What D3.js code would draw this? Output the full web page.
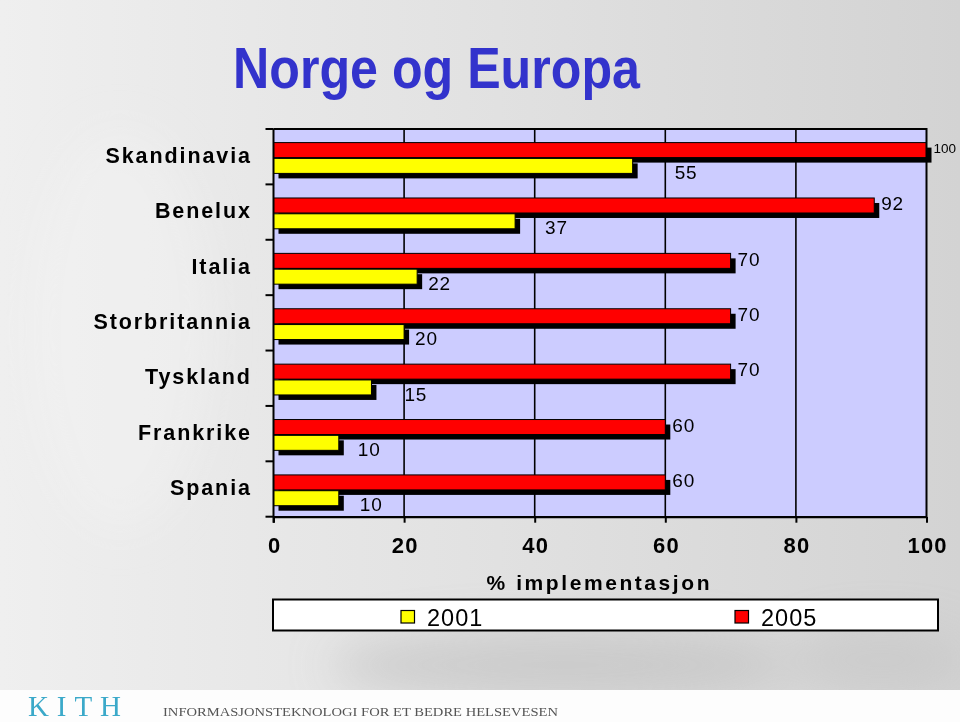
<!DOCTYPE html>
<html><head><meta charset="utf-8">
<script src="https://cdn.jsdelivr.net/npm/d3@7"></script>
<style>html,body{margin:0;padding:0;overflow:hidden;background:#fff}</style>
</head><body>
<script>
// ---- data ----
const categories = ["Skandinavia","Benelux","Italia","Storbritannia","Tyskland","Frankrike","Spania"];
const values2001 = [55,37,22,20,15,10,10];
const values2005 = [100,92,70,70,70,60,60];
const xTicks = [0,20,40,60,80,100];
const seriesNames = ["2001","2005"];
const seriesColors = ["#FFFF00","#FF0000"];
// label placement nudges (px) for the 2001 value labels, as in the original slide
const label2001Nudge = [34,22,3,3,25,11,13];

// ---- layout ----
const W = 960, H = 722;
const M = {left:273.5, right:926.5, top:129, bottom:516.7};
const svg = d3.select("body").append("svg").attr("width", W).attr("height", H);
const defs = svg.append("defs");

const bgGrad = defs.append("linearGradient").attr("id","bg").attr("x1","0").attr("x2","1").attr("y1","0").attr("y2","0");
[[0,"#efefef"],[0.45,"#e3e3e3"],[1,"#d3d3d3"]].forEach(([o,c])=>bgGrad.append("stop").attr("offset",o).attr("stop-color",c));
defs.append("filter").attr("id","blur").attr("x","-50%").attr("y","-50%").attr("width","200%").attr("height","200%")
  .append("feGaussianBlur").attr("stdDeviation",22);

// background
svg.append("rect").attr("width",W).attr("height",H).attr("fill","url(#bg)");
const clouds = svg.append("g").attr("filter","url(#blur)");
clouds.append("ellipse").attr("cx",560).attr("cy",665).attr("rx",230).attr("ry",35).attr("fill","#b8b8b8").attr("opacity",0.5);
clouds.append("ellipse").attr("cx",120).attr("cy",330).attr("rx",90).attr("ry",200).attr("fill","#f4f4f4").attr("opacity",0.4);
clouds.append("ellipse").attr("cx",880).attr("cy",660).attr("rx",90).attr("ry",30).attr("fill","#c4c4c4").attr("opacity",0.6);
svg.append("rect").attr("x",0).attr("y",690).attr("width",W).attr("height",H-690).attr("fill","#fdfdfd");

// title
svg.append("text").attr("x",233).attr("y",88)
  .attr("font-family","'Liberation Sans Narrow','Liberation Sans',Arial,sans-serif")
  .attr("font-weight","bold").attr("font-size",57).attr("fill","#3333CC")
  .attr("textLength",407).attr("lengthAdjust","spacingAndGlyphs")
  .text("Norge og Europa");

// scales
const x = d3.scaleLinear().domain([0,100]).range([M.left, M.right]);
const y = d3.scaleBand().domain(categories).range([M.top, M.bottom]);
const bw = y.bandwidth();
const barH = 15, redOff = 13.6, yelOff = 29.4, sh = 5;

// plot area
svg.append("rect").attr("x",M.left).attr("y",M.top).attr("width",M.right-M.left).attr("height",M.bottom-M.top)
  .attr("fill","#CCCCFF");
svg.append("g").selectAll("line").data(xTicks.filter(t=>t>0 && t<100)).join("line")
  .attr("x1",d=>x(d)).attr("x2",d=>x(d)).attr("y1",M.top).attr("y2",M.bottom)
  .attr("stroke","#000").attr("stroke-width",1.6);

// bars
const rows = categories.map((c,i)=>({c, v1:values2001[i], v2:values2005[i], i}));
const g = svg.append("g");
rows.forEach(r=>{
  const y0 = y(r.c);
  g.append("rect").attr("x",M.left+sh).attr("y",y0+redOff+sh).attr("width",x(r.v2)-M.left).attr("height",barH).attr("fill","#000");
  g.append("rect").attr("x",M.left).attr("y",y0+redOff).attr("width",x(r.v2)-M.left).attr("height",barH)
    .attr("fill",seriesColors[1]).attr("stroke","#000").attr("stroke-width",1);
  g.append("rect").attr("x",M.left+sh).attr("y",y0+yelOff+sh).attr("width",x(r.v1)-M.left).attr("height",barH).attr("fill","#000");
  g.append("rect").attr("x",M.left).attr("y",y0+yelOff).attr("width",x(r.v1)-M.left).attr("height",barH)
    .attr("fill",seriesColors[0]).attr("stroke","#000").attr("stroke-width",1);
});

// plot border (top, right)
svg.append("path").attr("d",`M${M.left},${M.top}H${M.right}V${M.bottom}`).attr("fill","none").attr("stroke","#000").attr("stroke-width",2);

// value labels
const lblFont = "'Liberation Sans',Arial,sans-serif";
g.selectAll("text.v2").data(rows).join("text").attr("class","v2")
  .attr("x",d=>x(d.v2)+7).attr("y",d=>y(d.c)+redOff+barH/2-2).attr("dy","0.35em")
  .attr("font-family",lblFont).attr("font-size",19).attr("letter-spacing",0.8).attr("fill","#000")
  .text(d=>d.v2)
  .each(function(){
    // shrink a label that would run past the right edge of the slide
    const sel = d3.select(this);
    let fs = 19;
    while (this.getBBox().x + this.getBBox().width > W - 3 && fs > 12) {
      fs -= 0.5;
      sel.attr("letter-spacing",0).attr("font-size",fs);
    }
  });
g.selectAll("text.v1").data(rows).join("text").attr("class","v1")
  .attr("x",d=>x(d.v1)+8+label2001Nudge[d.i]).attr("y",d=>y(d.c)+yelOff+barH/2+6.5).attr("dy","0.35em")
  .attr("font-family",lblFont).attr("font-size",19).attr("letter-spacing",0.8).attr("fill","#000")
  .text(d=>d.v1);

// y axis
const ya = svg.append("g");
ya.append("line").attr("x1",M.left).attr("x2",M.left).attr("y1",M.top).attr("y2",M.bottom+6).attr("stroke","#000").attr("stroke-width",2);
ya.selectAll("line.tk").data([M.top, ...categories.map(c=>y(c)+bw)]).join("line").attr("class","tk")
  .attr("x1",M.left-8).attr("x2",M.left).attr("y1",d=>d).attr("y2",d=>d).attr("stroke","#000").attr("stroke-width",2);
const catLS = 1.9;
ya.selectAll("text").data(categories).join("text")
  .attr("x",250+catLS).attr("y",d=>y(d)+bw/2+6.2).attr("text-anchor","end")
  .attr("font-family",lblFont).attr("font-weight","bold").attr("font-size",21.5).attr("letter-spacing",catLS).attr("fill","#000")
  .text(d=>d);

// x axis
const xa = svg.append("g").attr("transform",`translate(0,${M.bottom})`)
  .call(d3.axisBottom(x).tickValues(xTicks).tickSize(6).tickSizeOuter(0).tickPadding(15));
xa.select(".domain").attr("stroke","#000").attr("stroke-width",2.2);
xa.selectAll(".tick line").attr("stroke","#000").attr("stroke-width",2);
xa.selectAll(".tick text").attr("font-family",lblFont).attr("font-weight","bold").attr("font-size",22)
  .attr("letter-spacing",1.2).attr("fill","#000").attr("dx",0.6);

svg.append("text").attr("x",598).attr("y",590).attr("text-anchor","middle")
  .attr("font-family",lblFont).attr("font-weight","bold").attr("font-size",21).attr("fill","#000")
  .attr("textLength",223).attr("lengthAdjust","spacing")
  .text("% implementasjon");

// legend
svg.append("rect").attr("x",273).attr("y",599.5).attr("width",665).attr("height",31)
  .attr("fill","#fff").attr("stroke","#000").attr("stroke-width",2);
const lx = d3.scalePoint().domain(seriesNames).range([401,735]);
const lg = svg.append("g").selectAll("g").data(seriesNames).join("g").attr("transform",d=>`translate(${lx(d)},0)`);
lg.append("rect").attr("x",0).attr("y",610.5).attr("width",13.5).attr("height",12.5)
  .attr("fill",(d,i)=>seriesColors[i]).attr("stroke","#000").attr("stroke-width",1.2);
lg.append("text").attr("x",26).attr("y",625.5).attr("font-family",lblFont).attr("font-size",23.5)
  .attr("letter-spacing",1).attr("fill","#000").text(d=>d);

// footer
svg.append("text").attr("x",28).attr("y",715.5).attr("font-family","'Liberation Serif','DejaVu Serif',serif")
  .attr("font-size",29).attr("fill","#3BA9C9").attr("textLength",93).attr("lengthAdjust","spacing").text("KITH");
svg.append("text").attr("x",163).attr("y",716).attr("font-family","'Liberation Serif','DejaVu Serif',serif")
  .attr("font-size",12.5).attr("fill","#555").attr("textLength",395).attr("lengthAdjust","spacingAndGlyphs")
  .text("INFORMASJONSTEKNOLOGI FOR ET BEDRE HELSEVESEN");
</script>
</body></html>
